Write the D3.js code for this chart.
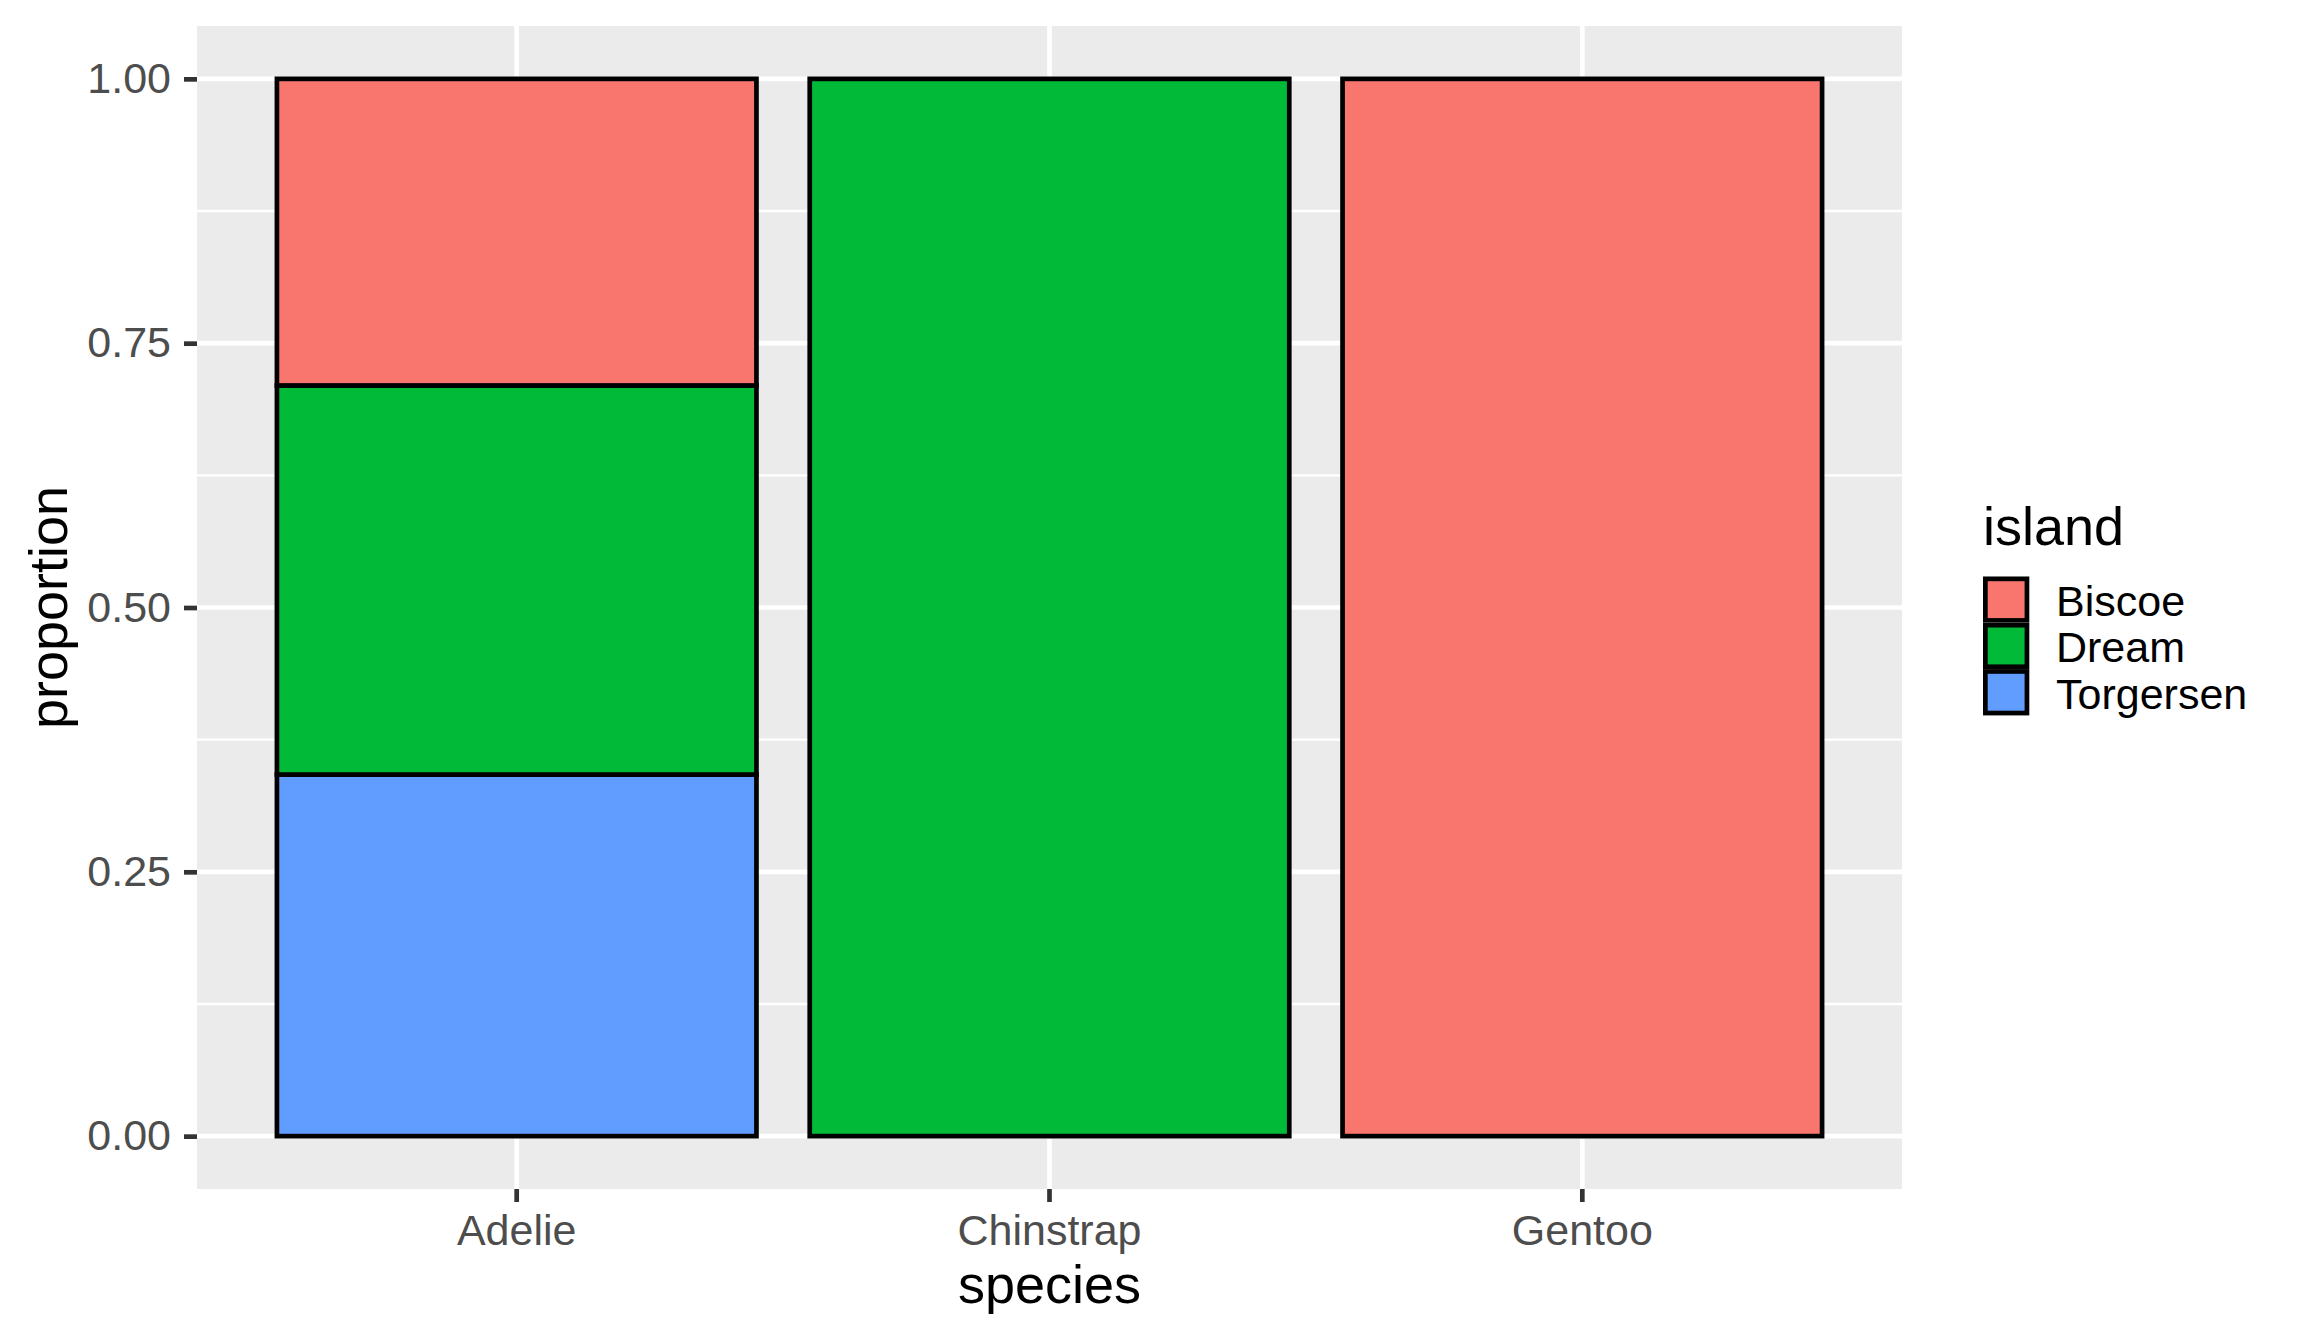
<!DOCTYPE html>
<html>
<head>
<meta charset="utf-8">
<script src="https://cdn.jsdelivr.net/npm/d3@7"></script>
<style>
  body { margin: 0; background: #fff; }
  text { font-family: "Liberation Sans", Arial, sans-serif; }
</style>
</head>
<body>
<div id="chart"></div>
<script>
// data
const species = ['Adelie', 'Chinstrap', 'Gentoo'];
const islands = ['Biscoe', 'Dream', 'Torgersen'];
const biscoe = [0.290, 0, 1];
const dream = [0.368, 1, 0];
const torgersen = [0.342, 0, 0];
const yTicks = [0, 0.25, 0.5, 0.75, 1];
const yMinor = [0.125, 0.375, 0.625, 0.875];
const fills = ['#F8766D', '#00BA38', '#619CFF'];

const W = 2304, H = 1344;
const panel = {left: 197, right: 1902, top: 26, bottom: 1189};
const lw = 4.7;

const rows = species.map((s, i) => ({
  species: s,
  Biscoe: biscoe[i],
  Dream: dream[i],
  Torgersen: torgersen[i]
}));

// ggplot stacks the first level on top
const stack = d3.stack().keys(islands.slice().reverse());
const series = stack(rows);

const svg = d3.select('#chart')
  .append('svg')
  .attr('width', W)
  .attr('height', H)
  .style('background', '#fff');

const x = d3.scaleBand()
  .domain(species)
  .range([panel.left, panel.right])
  .paddingInner(0.1)
  .paddingOuter(0.15);

const y = d3.scaleLinear()
  .domain([-0.05, 1.05])
  .range([panel.bottom, panel.top]);

const color = d3.scaleOrdinal(islands, fills);

// panel background + grid
svg.append('rect')
  .attr('x', panel.left)
  .attr('y', panel.top)
  .attr('width', panel.right - panel.left)
  .attr('height', panel.bottom - panel.top)
  .attr('fill', '#EBEBEB');

svg.append('g').selectAll('line')
  .data(yMinor)
  .join('line')
    .attr('x1', panel.left).attr('x2', panel.right)
    .attr('y1', d => y(d)).attr('y2', d => y(d))
    .attr('stroke', '#fff').attr('stroke-width', lw / 2);

svg.append('g').selectAll('line')
  .data(yTicks)
  .join('line')
    .attr('x1', panel.left).attr('x2', panel.right)
    .attr('y1', d => y(d)).attr('y2', d => y(d))
    .attr('stroke', '#fff').attr('stroke-width', lw);

svg.append('g').selectAll('line')
  .data(species)
  .join('line')
    .attr('x1', d => x(d) + x.bandwidth() / 2).attr('x2', d => x(d) + x.bandwidth() / 2)
    .attr('y1', panel.top).attr('y2', panel.bottom)
    .attr('stroke', '#fff').attr('stroke-width', lw);

// bars
svg.append('g').selectAll('g')
  .data(series)
  .join('g')
    .attr('fill', d => color(d.key))
  .selectAll('rect')
  .data(d => d.filter(p => p[1] - p[0] > 0))
  .join('rect')
    .attr('x', d => x(d.data.species))
    .attr('width', x.bandwidth())
    .attr('y', d => y(d[1]))
    .attr('height', d => y(d[0]) - y(d[1]))
    .attr('stroke', '#000')
    .attr('stroke-width', lw);

// axes
const yAxis = svg.append('g')
  .attr('transform', `translate(${panel.left},0)`)
  .call(d3.axisLeft(y).tickValues(yTicks).tickFormat(d3.format('.2f')).tickSize(13).tickPadding(13));

const xAxis = svg.append('g')
  .attr('transform', `translate(0,${panel.bottom})`)
  .call(d3.axisBottom(x).tickSize(13).tickPadding(12));

[yAxis, xAxis].forEach(ax => {
  ax.select('.domain').remove();
  ax.selectAll('.tick line').attr('stroke', '#333333').attr('stroke-width', lw);
  ax.selectAll('.tick text')
    .attr('fill', '#4D4D4D')
    .style('font-size', '43px')
    .style('font-family', '"Liberation Sans", Arial, sans-serif');
});

svg.append('text')
  .attr('x', (panel.left + panel.right) / 2)
  .attr('y', 1303)
  .attr('text-anchor', 'middle')
  .style('font-size', '54px')
  .text('species');

svg.append('text')
  .attr('transform', `translate(67,${(panel.top + panel.bottom) / 2}) rotate(-90)`)
  .attr('text-anchor', 'middle')
  .style('font-size', '54px')
  .text('proportion');

// legend
const legend = svg.append('g');
const keyX = 1983, keySize = 46.3;
const ly = d3.scaleBand()
  .domain(islands)
  .range([576.5, 576.5 + keySize * islands.length]);

legend.append('text')
  .attr('x', keyX)
  .attr('y', 545)
  .style('font-size', '54px')
  .text('island');

const keys = legend.selectAll('g.key')
  .data(islands)
  .join('g')
    .attr('class', 'key')
    .attr('transform', d => `translate(${keyX},${ly(d)})`);

keys.append('rect')
  .attr('width', keySize)
  .attr('height', ly.bandwidth())
  .attr('fill', '#F2F2F2');

keys.append('rect')
  .attr('x', lw / 2)
  .attr('y', lw / 2)
  .attr('width', keySize - lw)
  .attr('height', ly.bandwidth() - lw)
  .attr('fill', d => color(d))
  .attr('stroke', '#000')
  .attr('stroke-width', lw);

keys.append('text')
  .attr('x', 2056 - keyX)
  .attr('y', ly.bandwidth() / 2)
  .attr('dy', '0.38em')
  .style('font-size', '43px')
  .text(d => d);
</script>
</body>
</html>
